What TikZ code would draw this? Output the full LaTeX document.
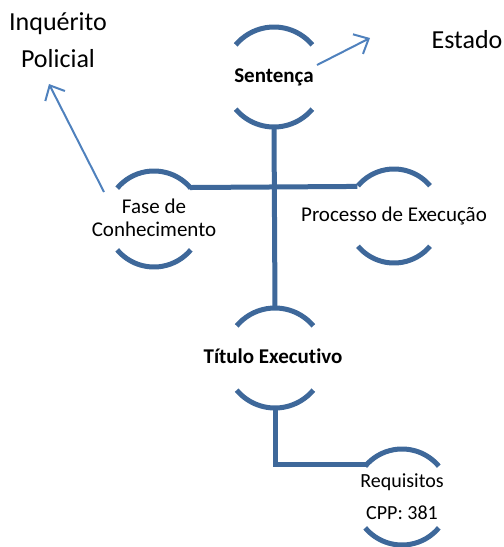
\documentclass[tikz,border=0pt]{standalone}
\usepackage{fontspec}
\setmainfont[Ligatures=NoCommon]{Carlito}
\usetikzlibrary{arrows.meta}
\definecolor{ringblue}{RGB}{62,104,154}
\definecolor{arrblue}{RGB}{79,129,189}
\tikzset{
  ring/.style={draw=ringblue, line width=5pt},
  conn/.style={draw=ringblue, line width=5pt},
  arr/.style={draw=arrblue, line width=2pt, -{Straight Barb[length=12pt,width=22pt]}},
  lbl/.style={inner sep=0pt, align=center, font=\fontsize{21}{23}\selectfont},
  big/.style={inner sep=0pt, align=center, font=\fontsize{26}{37}\selectfont}
}
\begin{document}
\begin{tikzpicture}[x=1pt,y=1pt]
\useasboundingbox (0,0) rectangle (504,-547);
% centres
\coordinate (cS) at (274,-77);
\coordinate (cF) at (154,-219);
\coordinate (cP) at (394,-216);
\coordinate (cT) at (275,-358);
\coordinate (cR) at (402,-497);
% rings
\foreach \c/\r in {cS/50,cF/48,cP/47,cT/50,cR/48}{
  \draw[ring] ([shift={(40:\r pt)}]\c) arc (40:140:\r pt);
  \draw[ring] ([shift={(-140:\r pt)}]\c) arc (-140:-40:\r pt);
}
% arc end points used by connectors
\coordinate (Sb) at ([shift={(-90:50pt)}]cS);
\coordinate (Tt) at ([shift={(90:50pt)}]cT);
\coordinate (Tb) at ([shift={(-90:50pt)}]cT);
\coordinate (Fe) at ([shift={(41:48pt)}]cF);
\coordinate (Pe) at ([shift={(141:47pt)}]cP);
\coordinate (Re) at ([shift={(137:48pt)}]cR);
% connectors
\draw[conn] (Fe) -- (Pe);
\draw[conn] (Sb) -- (Tt);
\draw[conn, line join=miter] (Tb) |- (Re);
% labels
\node[lbl, font=\fontsize{21}{23}\selectfont\bfseries] (S) at (274,-77) {Sentença};
\node[lbl] (F) at (154,-218) {Fase de\\Conhecimento};
\node[lbl] (P) at (394,-216) {Processo de Execução};
\node[lbl, font=\fontsize{21}{23}\selectfont\bfseries] (T) at (273,-356) {Título Executivo};
\node[lbl, font=\fontsize{20}{32}\selectfont] (R) at (402,-497) {Requisitos\\CPP: 381};
\node[big] (I) at (58,-40) {Inquérito\\Policial};
\node[big] (E) at (467,-40) {Estado};
% arrows
\coordinate (a1s) at (104,-192);
\coordinate (a1e) at (49,-84);
\coordinate (a2s) at (317,-65);
\coordinate (a2e) at (370,-38);
\draw[arr] (a1s) -- (a1e);
\draw[arr] (a2s) -- (a2e);
\end{tikzpicture}
\end{document}
